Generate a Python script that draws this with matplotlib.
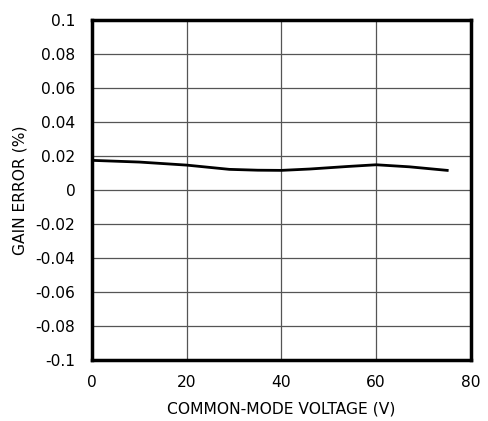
import numpy as np
import matplotlib
matplotlib.use("Agg")
import matplotlib.pyplot as plt

# -------------------------
# Data
# -------------------------

voltage = [0, 10, 20, 29, 35, 40, 46, 54, 60, 67, 75]
gain_error = [0.0175, 0.0165, 0.0147, 0.0122, 0.0117, 0.0116,
              0.0124, 0.0139, 0.0149, 0.0137, 0.0116]

x_ticks = [0, 20, 40, 60, 80]
y_ticks = [-0.1, -0.08, -0.06, -0.04, -0.02, 0, 0.02, 0.04, 0.06, 0.08, 0.1]
y_labels = ["-0.1", "-0.08", "-0.06", "-0.04", "-0.02", "0",
            "0.02", "0.04", "0.06", "0.08", "0.1"]

# -------------------------
# Plot
# -------------------------

plt.rcParams['font.family'] = ['DejaVu Sans']

fig = plt.figure(figsize=(4.89, 4.21), dpi=100)
ax = fig.add_axes([0.188, 0.145, 0.775, 0.807])

ax.plot(voltage, gain_error, color="black", linewidth=2)

ax.set_xlim(0, 80)
ax.set_ylim(-0.1, 0.1)
ax.set_xticks(x_ticks)
ax.set_yticks(y_ticks)
ax.set_yticklabels(y_labels)
ax.grid(True, color="#555555", linewidth=0.9)
ax.tick_params(axis="x", length=0, labelsize=11.2, pad=11)
ax.tick_params(axis="y", length=0, labelsize=11.2, pad=12)

for s in ax.spines.values():
    s.set_linewidth(2.5)

ax.set_xlabel("COMMON-MODE VOLTAGE (V)", fontsize=11.2, labelpad=8)
ax.set_ylabel("GAIN ERROR (%)", fontsize=11.2, labelpad=6)

fig.savefig("out.png", dpi=100)
